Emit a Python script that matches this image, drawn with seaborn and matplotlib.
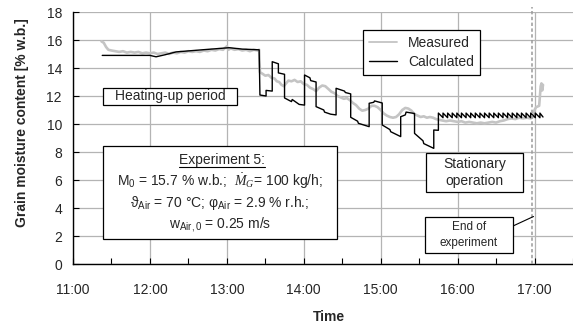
import pandas as pd
import matplotlib
matplotlib.use("Agg")
import matplotlib.pyplot as plt
import seaborn as sns
from matplotlib.patches import Rectangle
from matplotlib.lines import Line2D
from matplotlib.ticker import MultipleLocator

# time in hours of the day, moisture in % w.b.
meas_t = [11.37, 11.40, 11.43, 11.46, 11.50, 11.55, 11.60, 11.65, 11.70, 11.75,
          11.80, 11.85, 11.90, 11.95, 12.00, 12.05, 12.10, 12.15, 12.20, 12.25,
          12.30, 12.35, 12.40, 12.45, 12.50, 12.55, 12.60, 12.65, 12.70, 12.75,
          12.80, 12.85, 12.90, 12.95, 13.00, 13.02, 13.05, 13.10, 13.15, 13.20,
          13.25, 13.30, 13.35, 13.40, 13.42, 13.43, 13.46, 13.50, 13.54, 13.58,
          13.62, 13.65, 13.68, 13.71, 13.74, 13.77, 13.80, 13.84, 13.88, 13.92,
          13.96, 14.00, 14.04, 14.08, 14.12, 14.16, 14.20, 14.24, 14.28, 14.32,
          14.36, 14.40, 14.44, 14.48, 14.52, 14.56, 14.60, 14.64, 14.68, 14.72,
          14.76, 14.80, 14.84, 14.88, 14.92, 14.96, 15.00, 15.04, 15.08, 15.12,
          15.16, 15.20, 15.24, 15.28, 15.32, 15.36, 15.40, 15.44, 15.48, 15.52,
          15.56, 15.60, 15.64, 15.68, 15.72, 15.76, 15.80, 15.85, 15.90, 15.95,
          16.00, 16.05, 16.10, 16.15, 16.20, 16.25, 16.30, 16.35, 16.40, 16.45,
          16.50, 16.55, 16.60, 16.65, 16.70, 16.75, 16.80, 16.85, 16.90, 16.95,
          16.98, 17.00, 17.02, 17.04, 17.06, 17.07, 17.08, 17.09, 17.10, 17.11]
meas_v = [15.90, 15.80, 15.50, 15.30, 15.25, 15.20, 15.15, 15.20, 15.10, 15.15,
          15.10, 15.15, 15.05, 15.10, 15.05, 15.10, 15.00, 15.05, 15.10, 15.00,
          15.10, 15.05, 15.15, 15.10, 15.20, 15.15, 15.20, 15.15, 15.25, 15.20,
          15.30, 15.25, 15.35, 15.30, 15.55, 15.30, 15.40, 15.30, 15.35, 15.25,
          15.30, 15.20, 15.30, 15.25, 15.30, 13.70, 13.60, 13.45, 13.50, 13.30,
          13.25, 13.05, 13.00, 12.80, 12.70, 12.90, 13.10, 13.05, 13.15, 13.00,
          13.05, 12.85, 12.80, 12.60, 12.50, 12.35, 12.60, 12.75, 12.70, 12.50,
          12.30, 12.20, 12.00, 11.90, 11.80, 11.85, 11.70, 11.50, 11.35, 11.10,
          10.95, 11.00, 11.10, 11.30, 11.30, 11.20, 11.00, 10.75, 10.60, 10.50,
          10.45, 10.50, 10.70, 11.00, 11.15, 11.10, 10.95, 10.70, 10.60, 10.50,
          10.55, 10.45, 10.50, 10.45, 10.35, 10.30, 10.25, 10.20, 10.25, 10.20,
          10.15, 10.20, 10.10, 10.15, 10.10, 10.05, 10.10, 10.05, 10.10, 10.15,
          10.10, 10.20, 10.25, 10.35, 10.40, 10.35, 10.45, 10.40, 10.45, 10.40,
          10.50, 11.00, 11.20, 11.25, 11.30, 12.00, 12.70, 12.90, 12.40, 12.80]

calc_t = [11.38, 12.00, 12.08, 12.20, 12.34, 12.68, 13.03, 13.20, 13.42,
          13.43, 13.51, 13.51, 13.59, 13.59, 13.67, 13.67, 13.75,
          13.75, 13.84, 13.85, 13.94, 14.01,
          14.01, 14.08, 14.09, 14.16,
          14.16, 14.26, 14.27, 14.35, 14.42,
          14.42, 14.53, 14.54, 14.61,
          14.61, 14.70, 14.71, 14.85,
          14.85, 14.91, 14.92, 15.02,
          15.02, 15.12, 15.13, 15.26,
          15.26, 15.32, 15.33, 15.44,
          15.44, 15.55, 15.56, 15.69, 15.69, 15.75,
          15.75, 15.81, 15.81, 15.87, 15.87, 15.93, 15.93, 15.99, 15.99,
          16.05, 16.05, 16.11, 16.11, 16.17, 16.17, 16.23, 16.23, 16.29, 16.29,
          16.35, 16.35, 16.41, 16.41, 16.47, 16.47, 16.53, 16.53, 16.59, 16.59,
          16.65, 16.65, 16.71, 16.71, 16.77, 16.77, 16.83, 16.83, 16.89, 16.89,
          16.95, 16.95, 17.01, 17.01, 17.07, 17.07, 17.11]
calc_v = [14.90, 14.90, 14.80, 14.95, 15.15, 15.30, 15.45, 15.35, 15.30,
          12.07, 12.00, 12.40, 12.35, 14.45, 14.30, 13.65, 13.55,
          11.86, 11.60, 11.75, 11.40, 11.35,
          13.50, 13.30, 13.10, 13.00,
          11.24, 11.00, 10.85, 10.70, 10.65,
          12.55, 12.35, 12.25, 12.15,
          10.48, 10.20, 10.05, 9.81,
          11.48, 11.55, 11.65, 11.50,
          9.93, 9.60, 9.45, 9.10,
          10.52, 10.65, 10.85, 10.75,
          9.33, 8.80, 8.60, 8.26, 9.57, 9.55,
          10.78, 10.45, 10.78, 10.45, 10.78, 10.45, 10.78, 10.45, 10.78,
          10.45, 10.78, 10.45, 10.78, 10.45, 10.78, 10.45, 10.78, 10.45, 10.78,
          10.45, 10.78, 10.45, 10.78, 10.45, 10.78, 10.45, 10.78, 10.45, 10.78,
          10.45, 10.78, 10.45, 10.78, 10.45, 10.78, 10.45, 10.78, 10.45, 10.78,
          10.45, 10.78, 10.45, 10.78, 10.45, 10.78, 10.50]

end_time = 16.965
hour_ticks = [11, 12, 13, 14, 15, 16, 17]
hour_labels = ["11:00", "12:00", "13:00", "14:00", "15:00", "16:00", "17:00"]
y_ticks = [0, 2, 4, 6, 8, 10, 12, 14, 16, 18]

sns.set_style("white")
plt.rcParams['font.family'] = ['Liberation Sans', 'DejaVu Sans']
plt.rcParams['mathtext.fontset'] = 'custom'
plt.rcParams['mathtext.rm'] = 'Liberation Sans'
plt.rcParams['mathtext.it'] = 'Liberation Serif:italic'
plt.rcParams['mathtext.bf'] = 'Liberation Sans:bold'

W, H = 573, 325
fig = plt.figure(figsize=(W / 100, H / 100), dpi=100)
ax = fig.add_axes([73 / W, 1 - 264 / H, 1 - 73 / W, 252 / H])


def fx(px):
    return px / W


def fy(py):
    return 1 - py / H


meas = pd.DataFrame({'time': meas_t, 'moisture': meas_v})
calc = pd.DataFrame({'time': calc_t, 'moisture': calc_v})
sns.lineplot(data=meas, x='time', y='moisture', sort=False, estimator=None,
             color='#c4c4c4', lw=1.9, label='Measured', ax=ax)
sns.lineplot(data=calc, x='time', y='moisture', sort=False, estimator=None,
             color='black', lw=1.0, label='Calculated', ax=ax)

ax.axvline(end_time, ymin=0, ymax=1.02, color='#9a9a9a', lw=1.1,
           ls=(0, (2.2, 1.6)), clip_on=False, zorder=3)

ax.set_xlim(11, 17.5)
ax.set_ylim(0, 18)
ax.set_xticks(hour_ticks)
ax.set_xticklabels(hour_labels)
ax.set_yticks(y_ticks)
ax.xaxis.set_minor_locator(MultipleLocator(0.5))
ax.grid(True, which='major', color='#b4b4b4', lw=0.9)
ax.set_axisbelow(True)
ax.tick_params(axis='x', which='both', direction='in', length=4, color='black',
               labelsize=10, pad=13.5)
ax.tick_params(axis='y', which='major', direction='in', length=4, color='black',
               labelsize=10, pad=8)
ax.tick_params(axis='x', which='minor', bottom=True, length=4, width=0.8)
ax.tick_params(axis='x', which='major', bottom=True)
ax.tick_params(axis='y', left=True)
for side in ['top', 'right']:
    ax.spines[side].set_visible(False)
for side in ['left', 'bottom']:
    ax.spines[side].set_color('black')
    ax.spines[side].set_linewidth(1.0)

ax.set_xlabel('Time', fontsize=10, fontweight='bold')
ax.set_ylabel('Grain moisture content [% w.b.]', fontsize=10, fontweight='bold')
ax.xaxis.set_label_coords((330 - 73) / 502, (264 - 317) / 252)
ax.yaxis.set_label_coords((22 - 73) / 502, (264 - 122.5) / 252)
ax.xaxis.label.set_va('center')
ax.yaxis.label.set_va('center')

leg = ax.legend(loc='upper left', bbox_to_anchor=(fx(363), fy(30)),
                bbox_transform=fig.transFigure, fontsize=10, frameon=True,
                fancybox=False, edgecolor='black', framealpha=1,
                handlelength=2.0, handletextpad=0.8, borderpad=0.45,
                labelspacing=0.35, borderaxespad=0)
leg.get_frame().set_linewidth(0.9)
leg.get_lines()[0].set_linewidth(1.3)
leg.set_zorder(5)


def box(x0, y0, x1, y1):
    r = Rectangle((fx(x0), fy(y1)), fx(x1) - fx(x0), fy(y0) - fy(y1),
                  transform=fig.transFigure, facecolor='white',
                  edgecolor='black', lw=0.9, zorder=4)
    fig.patches.append(r)


box(103, 88, 237, 105)
fig.text(fx(170), fy(96.5), 'Heating-up period', fontsize=10,
         ha='center', va='center', zorder=6)

box(103, 146, 337, 239)
head = fig.text(fx(222), fy(160), 'Experiment 5:', fontsize=10,
                ha='center', va='center', zorder=6)
fig.text(fx(220), fy(181), r'M$_0$ = 15.7 % w.b.;  $\dot{M}_G$= 100 kg/h;',
         fontsize=10, ha='center', va='center', zorder=6)
fig.text(fx(220), fy(203), r'ϑ$_{\mathrm{Air}}$ = 70 °C; φ$_{\mathrm{Air}}$ = 2.9 % r.h.;',
         fontsize=10, ha='center', va='center', zorder=6)
fig.text(fx(220), fy(225), r'w$_{\mathrm{Air,0}}$ = 0.25 m/s',
         fontsize=10, ha='center', va='center', zorder=6)

box(426, 153, 523, 192)
fig.text(fx(474.5), fy(172.5), 'Stationary\noperation', fontsize=10,
         ha='center', va='center', linespacing=1.25, zorder=6)

box(425, 217, 513, 253)
fig.text(fx(469), fy(235), 'End of\nexperiment', fontsize=8.5,
         ha='center', va='center', linespacing=1.35, zorder=6)
fig.lines.append(Line2D([fx(513), fx(533.5)], [fy(226), fy(216.5)],
                        transform=fig.transFigure, color='black', lw=0.8))

# underline the heading of the experiment box
fig.canvas.draw()
bb = head.get_window_extent()
fig.lines.append(Line2D([bb.x0 / W, bb.x1 / W], [fy(166.5), fy(166.5)],
                        transform=fig.transFigure, color='black', lw=0.8,
                        zorder=6))

fig.savefig('out.png', dpi=100)
